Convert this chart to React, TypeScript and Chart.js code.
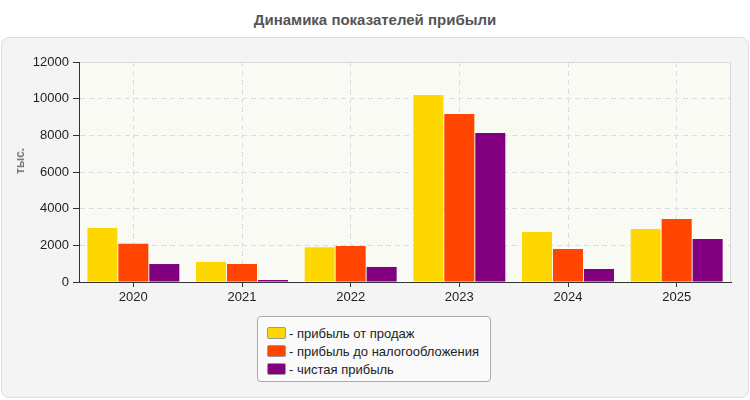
import React, { useEffect, useRef } from "react";
import { Chart, registerables } from "chart.js";

Chart.register(...registerables);

const chartTitle = "Динамика показателей прибыли";
const yAxisTitle = "тыс.";
const years = ["2020", "2021", "2022", "2023", "2024", "2025"];
const salesProfit = [2950, 1090, 1900, 10200, 2730, 2890];
const preTaxProfit = [2090, 980, 1960, 9170, 1800, 3440];
const netProfit = [980, 110, 820, 8130, 710, 2350];
const seriesLabels = ["прибыль от продаж", "прибыль до налогообложения", "чистая прибыль"];
const seriesColors = ["#ffd700", "#ff4500", "#800080"];
const yMin = 0;
const yMax = 12000;
const yStep = 2000;

const FONT = "'Liberation Sans', Arial, sans-serif";

const plotBg = {
  id: "plotBg",
  beforeDraw(chart: any) {
    const { ctx, chartArea: a } = chart;
    const w = a.right - a.left;
    const h = a.bottom - a.top;
    ctx.save();
    ctx.fillStyle = "#fdfdf8";
    ctx.fillRect(a.left, a.top, w, h);
    ctx.beginPath();
    ctx.rect(a.left, a.top, w, h);
    ctx.clip();
    ctx.strokeStyle = "#f2f2ed";
    ctx.lineWidth = 1;
    ctx.beginPath();
    for (let k = -h; k < w + h; k += 4) {
      ctx.moveTo(a.left + k, a.bottom);
      ctx.lineTo(a.left + k + h, a.top);
    }
    ctx.stroke();
    ctx.restore();
    ctx.save();
    ctx.strokeStyle = "#d8d8d8";
    ctx.lineWidth = 1;
    ctx.beginPath();
    ctx.moveTo(a.left, a.top + 0.5);
    ctx.lineTo(a.right, a.top + 0.5);
    ctx.moveTo(a.right - 0.5, a.top);
    ctx.lineTo(a.right - 0.5, a.bottom);
    ctx.stroke();
    ctx.restore();
  },
};

export default function App() {
  const ref = useRef<HTMLCanvasElement | null>(null);

  useEffect(() => {
    if (!ref.current) return;
    const dataArrays = [salesProfit, preTaxProfit, netProfit];
    const chart = new Chart(ref.current, {
      type: "bar",
      data: {
        labels: years,
        datasets: dataArrays.map((d, i) => ({
          label: seriesLabels[i],
          data: d,
          backgroundColor: seriesColors[i],
          borderWidth: 0,
          barPercentage: 0.97,
          categoryPercentage: 0.855,
        })),
      },
      options: {
        responsive: false,
        animation: false,
        layout: { padding: { left: 0, right: 19, top: 62, bottom: 0 } },
        plugins: {
          legend: { display: false },
          title: { display: false },
          tooltip: { enabled: false },
        },
        scales: {
          x: {
            grid: {
              offset: false,
              color: "#dddddd",
              tickBorderDash: [],
              tickColor: "#333333",
              tickLength: 5,
              lineWidth: 1,
            },
            border: { color: "#333333", width: 1, dash: [5, 4] },
            ticks: {
              color: "#222222",
              font: { family: FONT, size: 13 },
              padding: 3,
            },
            afterFit(scale: any) {
              scale.height = 28;
            },
          },
          y: {
            min: yMin,
            max: yMax,
            grid: {
              color: "#dddddd",
              tickBorderDash: [],
              tickColor: "#333333",
              tickLength: 6,
              lineWidth: 1,
            },
            border: { color: "#333333", width: 1, dash: [5, 4] },
            ticks: {
              stepSize: yStep,
              color: "#222222",
              font: { family: FONT, size: 13 },
              padding: 4,
              callback: (v: any) => String(v),
            },
            afterFit(scale: any) {
              scale.width = 79;
            },
          },
        },
      } as any,
      plugins: [plotBg],
    });
    return () => chart.destroy();
  }, []);

  return (
    <div
      style={{
        position: "fixed",
        left: 0,
        top: 0,
        width: 750,
        height: 400,
        background: "#ffffff",
        fontFamily: FONT,
        overflow: "hidden",
      }}
    >
      <div
        style={{
          position: "absolute",
          left: 0,
          top: 0,
          width: 750,
          height: 40,
          lineHeight: "40px",
          textAlign: "center",
          fontWeight: "bold",
          fontSize: 15,
          color: "#555555",
        }}
      >
        {chartTitle}
      </div>
      <div
        style={{
          position: "absolute",
          left: 1,
          top: 37,
          width: 746,
          height: 359,
          background: "#f4f4f4",
          border: "1px solid #dddddd",
          borderRadius: 8,
        }}
      />
      <canvas
        ref={ref}
        width={750}
        height={310}
        style={{ position: "absolute", left: 0, top: 0, width: 750, height: 310 }}
      />
      <div
        style={{
          position: "absolute",
          left: 20,
          top: 161,
          transform: "translate(-50%, -50%) rotate(-90deg)",
          fontWeight: "bold",
          fontSize: 12,
          color: "#777777",
          whiteSpace: "nowrap",
        }}
      >
        {yAxisTitle}
      </div>
      <div
        style={{
          position: "absolute",
          left: 257,
          top: 316,
          width: 232,
          height: 64,
          background: "#fafafa",
          border: "1px solid #aaaaaa",
          borderRadius: 4,
          boxSizing: "content-box",
        }}
      >
        {seriesLabels.map((lab, i) => (
          <div
            key={lab}
            style={{
              position: "absolute",
              left: 9,
              top: 7 + i * 18,
              height: 18,
              display: "flex",
              alignItems: "center",
              fontSize: 13,
              color: "#222222",
              whiteSpace: "nowrap",
            }}
          >
            <span
              style={{
                display: "inline-block",
                width: 17,
                height: 10,
                background: seriesColors[i],
                border: "1px solid #999999",
                borderRadius: 2,
                marginRight: 3,
              }}
            />
            <span>- {lab}</span>
          </div>
        ))}
      </div>
    </div>
  );
}
